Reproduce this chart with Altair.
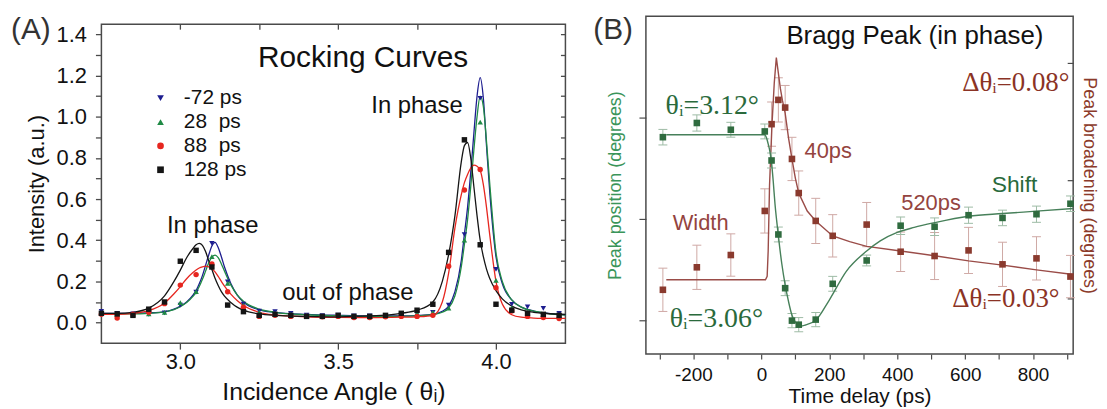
import altair as alt
import pandas as pd

# ---------------- Panel A : rocking curves ----------------
series = ["-72 ps", "\u00a028\u00a0\u00a0ps", "\u00a088\u00a0\u00a0ps", "128 ps"]
series_colors = ["#1d1d8f", "#1f8a45", "#e6261f", "#151515"]
series_shapes = ["triangle-down", "triangle-up", "circle", "square"]

angle_pts = [2.75, 2.80, 2.85, 2.90, 2.95, 3.00, 3.05, 3.10, 3.15, 3.20,
             3.25, 3.30, 3.35, 3.40, 3.45, 3.50, 3.55, 3.60, 3.65, 3.70,
             3.75, 3.80, 3.85, 3.90, 3.95, 4.00, 4.05, 4.10, 4.15, 4.20]
blue_pts = [0.055, 0.045, 0.042, 0.040, 0.047, 0.085, 0.148, 0.385, 0.198, 0.090,
            0.056, 0.053, 0.045, 0.036, 0.034, 0.036, 0.033, 0.032, 0.034, 0.038,
            0.042, 0.050, 0.085, 0.428, 1.090, 0.258, 0.089, 0.076, 0.069, 0.045]
green_pts = [0.045, 0.040, 0.040, 0.042, 0.050, 0.097, 0.150, 0.320, 0.190, 0.085,
             0.050, 0.045, 0.040, 0.035, 0.030, 0.035, 0.030, 0.030, 0.032, 0.040,
             0.045, 0.050, 0.070, 0.400, 0.974, 0.205, 0.072, 0.050, 0.040, 0.030]
red_pts = [0.040, 0.022, 0.040, 0.050, 0.092, 0.182, 0.233, 0.285, 0.150, 0.075,
           0.030, 0.035, 0.030, 0.030, 0.028, 0.030, 0.025, 0.025, 0.028, 0.030,
           0.030, 0.035, 0.274, 0.644, 0.744, 0.169, 0.056, 0.030, 0.025, 0.020]
black_pts = [0.045, 0.042, 0.035, 0.065, 0.100, 0.298, 0.351, 0.270, 0.085, 0.053,
             0.035, 0.040, 0.035, 0.030, 0.030, 0.035, 0.030, 0.030, 0.035, 0.045,
             0.060, 0.089, 0.341, 0.888, 0.378, 0.089, 0.060, 0.045, 0.040, 0.035]

angle_fit = [2.75, 2.80, 2.85, 2.90, 2.95, 2.98, 3.00, 3.02, 3.04, 3.05,
             3.06, 3.07, 3.08, 3.09, 3.10, 3.11, 3.12, 3.13, 3.14, 3.16,
             3.18, 3.20, 3.25, 3.30, 3.40, 3.50, 3.60, 3.70, 3.75, 3.80,
             3.83, 3.85, 3.87, 3.89, 3.90, 3.91, 3.92, 3.93, 3.94, 3.95,
             3.96, 3.97, 3.98, 4.00, 4.02, 4.05, 4.08, 4.12, 4.16, 4.22]
blue_fit = [0.045, 0.045, 0.045, 0.047, 0.052, 0.065, 0.080, 0.100, 0.133, 0.155,
            0.188, 0.228, 0.278, 0.328, 0.372, 0.390, 0.365, 0.320, 0.270, 0.190,
            0.135, 0.100, 0.062, 0.050, 0.040, 0.035, 0.032, 0.032, 0.034, 0.040,
            0.055, 0.080, 0.150, 0.300, 0.430, 0.560, 0.730, 0.920, 1.100, 1.190,
            1.090, 0.860, 0.640, 0.320, 0.190, 0.110, 0.075, 0.056, 0.046, 0.038]
green_fit = [0.042, 0.042, 0.042, 0.045, 0.052, 0.063, 0.077, 0.097, 0.127, 0.147,
             0.175, 0.210, 0.250, 0.290, 0.318, 0.328, 0.315, 0.285, 0.250, 0.183,
             0.135, 0.104, 0.065, 0.050, 0.038, 0.033, 0.030, 0.030, 0.032, 0.038,
             0.050, 0.070, 0.130, 0.270, 0.380, 0.500, 0.660, 0.840, 1.000, 1.100,
             1.050, 0.880, 0.680, 0.340, 0.200, 0.110, 0.075, 0.055, 0.045, 0.036]
red_fit = [0.040, 0.040, 0.045, 0.058, 0.095, 0.140, 0.175, 0.213, 0.243, 0.255,
           0.265, 0.271, 0.274, 0.271, 0.262, 0.246, 0.224, 0.200, 0.177, 0.138,
           0.107, 0.083, 0.050, 0.037, 0.028, 0.025, 0.024, 0.026, 0.028, 0.034,
           0.100, 0.240, 0.460, 0.620, 0.680, 0.720, 0.750, 0.765, 0.760, 0.740,
           0.670, 0.560, 0.430, 0.200, 0.090, 0.038, 0.026, 0.022, 0.020, 0.020]
black_fit = [0.045, 0.045, 0.050, 0.070, 0.130, 0.200, 0.255, 0.315, 0.360, 0.378,
             0.385, 0.375, 0.345, 0.300, 0.258, 0.215, 0.180, 0.150, 0.128, 0.098,
             0.075, 0.060, 0.042, 0.035, 0.030, 0.028, 0.032, 0.045, 0.060, 0.100,
             0.200, 0.330, 0.520, 0.780, 0.860, 0.875, 0.800, 0.660, 0.520, 0.400,
             0.320, 0.260, 0.215, 0.155, 0.115, 0.080, 0.062, 0.050, 0.044, 0.040]

pt_rows = []
for name, pv in zip(series, [blue_pts, green_pts, red_pts, black_pts]):
    for a, v in zip(angle_pts, pv):
        pt_rows.append({"angle": a, "intensity": v, "series": name})
df_pts = pd.DataFrame(pt_rows)

SANS = "Liberation Sans"
SERIF = "Liberation Serif"
FRAME = "#4a4a4a"

xA = alt.Scale(domain=[2.75, 4.22], nice=False, zero=False)
yA = alt.Scale(domain=[-0.1, 1.45], nice=False, zero=False)
cA = alt.Scale(domain=series, range=series_colors)
sA = alt.Scale(domain=series, range=series_shapes)

y_ticks = [0.0, 0.1, 0.2, 0.3, 0.4, 0.5, 0.6, 0.7, 0.8, 0.9, 1.0, 1.1, 1.2, 1.3, 1.4]
x_ticks = [3.0, 3.25, 3.5, 3.75, 4.0]

axA_bottom = alt.Axis(orient="bottom", values=x_ticks,
                      labelExpr="(abs(round(datum.value*4)) % 2 == 0) ? format(datum.value, '.1f') : ''",
                      tickSize=6, tickColor=FRAME, tickWidth=1.3, domain=False, grid=False,
                      labelFont=SANS, labelFontSize=22, labelColor="#111", labelPadding=3,
                      labelOverlap=False, labelFlush=False,
                      title="Incidence Angle ( \u03b8\u1d62)", titleFont=SANS, titleFontSize=25,
                      titleFontWeight="normal", titleColor="#111", titlePadding=7)
axA_left = alt.Axis(orient="left", values=y_ticks,
                    labelExpr="(abs(round(datum.value*10)) % 2 == 0) ? format(datum.value, '.1f') : ''",
                    tickSize=6, tickColor=FRAME, tickWidth=1.3, domain=False, grid=False,
                    labelFont=SANS, labelFontSize=22, labelColor="#111", labelPadding=9,
                    labelOverlap=False, labelFlush=False,
                    title="Intensity (a.u.)", titleFont=SANS, titleFontSize=22,
                    titleFontWeight="normal", titleColor="#111", titlePadding=8)
axA_top = alt.Axis(orient="top", values=x_ticks, labels=False, tickSize=5, offset=-5,
                   tickColor=FRAME, tickWidth=1.3, domain=False, grid=False, title=None)
axA_right = alt.Axis(orient="right", values=y_ticks, labels=False, tickSize=5, offset=-5,
                     tickColor=FRAME, tickWidth=1.3, domain=False, grid=False, title=None)

legA = alt.Legend(title=None, orient="none", legendX=49, legendY=72, padding=0,
                  labelFont=SANS, labelFontSize=21, labelColor="#111", labelOffset=13,
                  symbolSize=45, symbolStrokeWidth=0, rowPadding=2)

# one fitted line per series (fixed colour, so no extra legend is involved)
fit_layers = []
for i, (name, fv) in enumerate(zip(series, [blue_fit, green_fit, red_fit, black_fit])):
    dfl = pd.DataFrame({"angle": angle_fit, "intensity": fv})
    fit_layers.append(
        alt.Chart(dfl).mark_line(strokeWidth=1.3, interpolate="monotone", color=series_colors[i]).encode(
            x=alt.X("angle:Q", scale=xA, axis=axA_top if i == 0 else None),
            y=alt.Y("intensity:Q", scale=yA, axis=axA_right if i == 0 else None),
        )
    )

pointsA = alt.Chart(df_pts).mark_point(filled=True, size=30, opacity=1).encode(
    x=alt.X("angle:Q", scale=xA, axis=axA_bottom),
    y=alt.Y("intensity:Q", scale=yA, axis=axA_left),
    color=alt.Color("series:N", scale=cA, legend=legA),
    shape=alt.Shape("series:N", scale=sA, legend=legA),
)


def note(text, x, y, xs, ys, **mark):
    return alt.Chart(pd.DataFrame({"label": [text]})).mark_text(**mark).encode(
        x=alt.XDatum(x, type="quantitative", scale=xs, axis=None),
        y=alt.YDatum(y, type="quantitative", scale=ys, axis=None),
        text="label:N",
    )


def tag(text, px, py, **mark):
    return alt.Chart(pd.DataFrame({"label": [text]})).mark_text(**mark).encode(
        x=alt.value(px), y=alt.value(py), text="label:N")


notesA = [
    note("Rocking Curves", 3.579, 1.240, xA, yA, font=SANS, fontSize=30, color="#111", align="center", baseline="alphabetic"),
    note("In phase", 3.750, 1.017, xA, yA, font=SANS, fontSize=24, color="#111", align="center", baseline="alphabetic"),
    note("In phase", 3.1025, 0.433, xA, yA, font=SANS, fontSize=24, color="#111", align="center", baseline="alphabetic"),
    note("out of phase", 3.531, 0.110, xA, yA, font=SANS, fontSize=24, color="#111", align="center", baseline="alphabetic"),
]

panelA = alt.layer(*fit_layers, pointsA, *notesA).resolve_axis(
    x="independent", y="independent").properties(width=467, height=321)

# thin strip above panel A: carries the "(A)" tag and lowers panel A's frame
stripA = tag("(A)", -91, 23.4, font=SANS, fontSize=30, color="#333", align="left",
             baseline="alphabetic").properties(width=467, height=8,
                                               view=alt.ViewBackground(stroke="transparent"))
columnA = alt.vconcat(stripA, panelA, spacing=0, bounds="flush")

# ---------------- Panel B : Bragg peak dynamics ----------------
delay_pts = [-290, -190, -90, 10, 30, 50, 70, 90, 110, 160, 210, 310, 410, 510, 610, 710, 810, 910]
shift_pts = [3.1142, 3.1184, 3.1164, 3.1159, 3.1073, 3.0854, 3.0695, 3.0599, 3.0587, 3.0602,
             3.0708, 3.0777, 3.0880, 3.0877, 3.0911, 3.0903, 3.0914, 3.0945]
shift_err = [0.0023, 0.0024, 0.0022, 0.0022, 0.0022, 0.0022, 0.0022, 0.0021, 0.0021, 0.0021,
             0.0022, 0.0016, 0.0026, 0.0026, 0.0024, 0.0023, 0.0024, 0.0023]
width_pts = [0.03176, 0.03654, 0.03915, 0.04852, 0.06696, 0.07212, 0.07049, 0.05957, 0.05232, 0.04640,
             0.04323, 0.04562, 0.03985, 0.03894, 0.04013, 0.03717, 0.03844, 0.03457]
width_err = [0.0046, 0.0047, 0.0045, 0.0047, 0.0047, 0.0047, 0.0047, 0.0046, 0.0047, 0.0048,
             0.0045, 0.0047, 0.0042, 0.0050, 0.0049, 0.0047, 0.0046, 0.0045]

shift_fit_t = [-280, 10, 15, 20, 25, 30, 35, 40, 45, 50, 60, 70, 80, 90, 100, 115, 130, 160, 200, 250,
               310, 350, 400, 450, 510, 610, 710, 810, 918]
shift_fit = [3.1149, 3.1149, 3.1140, 3.1122, 3.1100, 3.1065, 3.1010, 3.0945, 3.0895, 3.0850,
             3.0768, 3.0705, 3.0655, 3.0615, 3.0595, 3.0583, 3.0586, 3.0600, 3.0660, 3.0745,
             3.0805, 3.0835, 3.0860, 3.0875, 3.0889, 3.0908, 3.0916, 3.0923, 3.0931]
width_fit_t = [-280, 12, 17, 20, 24, 31, 38, 44, 50, 56, 62, 70, 80, 90, 100, 110, 135, 160, 210, 260,
               310, 410, 510, 610, 710, 810, 918]
width_fit = [0.0339, 0.0339, 0.0346, 0.0400, 0.0539, 0.0666, 0.0758, 0.0811, 0.0778, 0.0745,
             0.0720, 0.0693, 0.0640, 0.0596, 0.0555, 0.0523, 0.0485, 0.0464, 0.0432, 0.0420,
             0.0410, 0.0400, 0.0390, 0.0379, 0.0370, 0.0360, 0.0350]

G_PT, G_ERR, G_LINE, G_TXT = "#2f6b3f", "#9dbba5", "#47805a", "#2a6a3c"
W_PT, W_ERR, W_LINE, W_TXT = "#8a3a2e", "#cfa8a4", "#9a4c48", "#944440"

xB = alt.Scale(domain=[-340, 918], nice=False, zero=False)
yG = alt.Scale(domain=[3.05, 3.15], nice=False, zero=False)
yW = alt.Scale(domain=[0.0181, 0.0899], nice=False, zero=False)

axB_bottom = alt.Axis(orient="bottom", values=list(range(-300, 1000, 100)),
                      labelExpr="(datum.value % 200 == 0 && datum.value >= -200 && datum.value <= 800) ? '' + datum.value : ''",
                      tickSize=5, tickColor=FRAME, tickWidth=1.2, domain=False, grid=False,
                      labelFont=SANS, labelFontSize=19, labelColor="#111", labelPadding=7,
                      labelOverlap=False, labelFlush=False,
                      title="Time delay (ps)", titleFont=SANS, titleFontSize=21,
                      titleFontWeight="normal", titleColor="#111", titlePadding=1)
axB_left = alt.Axis(orient="left", values=[3.06, 3.09, 3.12], labels=False, tickSize=7,
                    tickColor=FRAME, tickWidth=1.2, domain=False, grid=False,
                    title="Peak position (degrees)", titleFont=SANS, titleFontSize=18,
                    titleFontWeight="normal", titleColor="#3a955a", titlePadding=14)
axB_right = alt.Axis(orient="right", values=[0.03, 0.055, 0.08], labels=False, tickSize=6, offset=-6,
                     tickColor=FRAME, tickWidth=1.2, domain=False, grid=False,
                     title="Peak broadening (degrees)", titleFont=SANS, titleFontSize=18,
                     titleFontWeight="normal", titleColor="#8b3a2a", titlePadding=6)

df_shift = pd.DataFrame({"t": delay_pts, "v": shift_pts, "e": shift_err})
df_width = pd.DataFrame({"t": delay_pts, "v": width_pts, "e": width_err})
df_shift_fit = pd.DataFrame({"t": shift_fit_t, "v": shift_fit})
df_width_fit = pd.DataFrame({"t": width_fit_t, "v": width_fit})


def series_layers(df, dfit, ys, c_pt, c_err, c_line, axis_x, axis_y, interp):
    base = alt.Chart(df).transform_calculate(lo="datum.v - datum.e", hi="datum.v + datum.e")
    xn = alt.X("t:Q", scale=xB, axis=None)
    err = base.mark_rule(color=c_err, strokeWidth=1).encode(
        x=xn, y=alt.Y("lo:Q", scale=ys, axis=None), y2="hi:Q")
    cap_lo = base.mark_tick(orient="horizontal", size=9, thickness=1, color=c_err, opacity=1).encode(
        x=xn, y=alt.Y("lo:Q", scale=ys, axis=None))
    cap_hi = base.mark_tick(orient="horizontal", size=9, thickness=1, color=c_err, opacity=1).encode(
        x=xn, y=alt.Y("hi:Q", scale=ys, axis=None))
    line = alt.Chart(dfit).mark_line(color=c_line, strokeWidth=1.4, interpolate=interp).encode(
        x=xn, y=alt.Y("v:Q", scale=ys, axis=None))
    pts = alt.Chart(df).mark_square(size=44, color=c_pt, opacity=1).encode(
        x=alt.X("t:Q", scale=xB, axis=axis_x), y=alt.Y("v:Q", scale=ys, axis=axis_y))
    return [err, cap_lo, cap_hi, line, pts]


notesB = [
    note("Bragg Peak (in phase)", 452, 3.1418, xB, yG, font=SANS, fontSize=26, color="#111", align="center", baseline="alphabetic"),
    note("\u03b8\u1d62=3.12\u00b0", -282, 3.1211, xB, yG, font=SERIF, fontSize=28, color=G_TXT, align="left", baseline="alphabetic"),
    note("\u03b8\u1d62=3.06\u00b0", -270, 3.0581, xB, yG, font=SERIF, fontSize=28, color=G_TXT, align="left", baseline="alphabetic"),
    note("40ps", 127, 3.1080, xB, yG, font=SANS, fontSize=22, color=W_TXT, align="left", baseline="alphabetic"),
    note("Width", -261, 3.0866, xB, yG, font=SANS, fontSize=22, color=W_TXT, align="left", baseline="alphabetic"),
    note("520ps", 412, 3.0927, xB, yG, font=SANS, fontSize=22, color=W_TXT, align="left", baseline="alphabetic"),
    note("Shift", 678, 3.0981, xB, yG, font=SANS, fontSize=23, color=G_TXT, align="left", baseline="alphabetic"),
    note("\u0394\u03b8\u1d62=0.08\u00b0", 907, 3.1280, xB, yG, font=SERIF, fontSize=27, color="#8b3325", align="right", baseline="alphabetic"),
    note("\u0394\u03b8\u1d62=0.03\u00b0", 878, 3.0638, xB, yG, font=SERIF, fontSize=27, color="#8b3325", align="right", baseline="alphabetic"),
    tag("(B)", -53, 23.4, font=SANS, fontSize=30, color="#333", align="left", baseline="alphabetic"),
]

layersB = (series_layers(df_width, df_width_fit, yW, W_PT, W_ERR, W_LINE, None, axB_right, "linear")
           + series_layers(df_shift, df_shift_fit, yG, G_PT, G_ERR, G_LINE, axB_bottom, axB_left, "monotone")
           + notesB)

panelB = alt.layer(*layersB).resolve_scale(y="independent").resolve_axis(
    x="independent", y="independent").properties(width=430, height=340)

chart = alt.hconcat(columnA, panelB, spacing=23).properties(
    padding={"left": 2, "top": 5, "right": 0, "bottom": 0}).configure_view(stroke=FRAME, strokeWidth=1.5)

chart.save("out.html", embed_options={"renderer": "svg", "actions": False})
